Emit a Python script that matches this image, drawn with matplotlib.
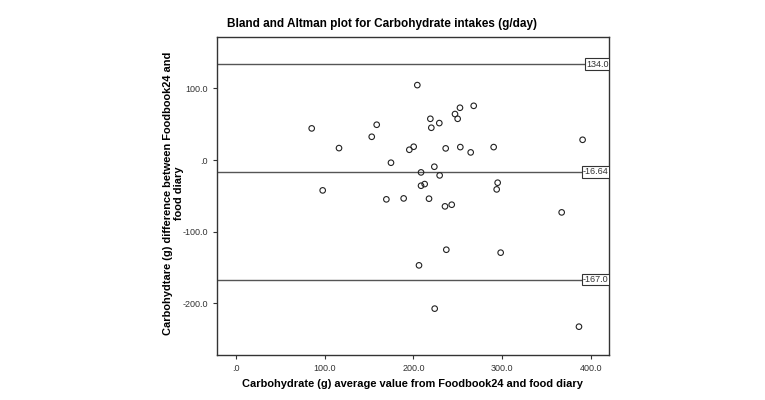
import matplotlib
matplotlib.use('Agg')
import matplotlib.pyplot as plt

plt.rcParams['font.family'] = ['Liberation Sans', 'DejaVu Sans']

# average of the two methods (g) and difference (g)
avg = [85.3, 97.7, 116.1, 153.0, 158.6, 169.5, 174.7, 204.4, 268.0, 252.5,
       246.9, 249.9, 219.1, 229.2, 220.2, 390.8, 195.4, 200.3, 236.4, 252.9,
       264.6, 290.5, 223.6, 208.6, 229.6, 208.6, 212.7, 295.0, 293.9, 189.0,
       217.6, 235.6, 243.2, 367.2, 237.1, 298.4, 206.3, 224.0, 386.7]
diff = [44.2, -42.3, 16.7, 32.5, 49.3, -54.8, -3.7, 104.6, 75.7, 73.0,
        64.2, 57.6, 57.6, 51.6, 45.1, 28.3, 14.4, 18.6, 16.3, 18.1,
        10.7, 18.1, -9.3, -17.2, -21.4, -35.8, -33.5, -31.6, -40.9, -53.5,
        -53.9, -64.6, -62.3, -73.0, -125.1, -129.2, -146.9, -207.3, -232.5]

ref_vals = [134.0, -16.64, -167.0]
ref_labels = ['134.0', '-16.64', '-167.0']

xticks = [0, 100, 200, 300, 400]
xticklabels = ['.0', '100.0', '200.0', '300.0', '400.0']
yticks = [100, 0, -100, -200]
yticklabels = ['100.0', '.0', '-100.0', '-200.0']

fig = plt.figure(figsize=(7.65, 4), dpi=100)
ax = fig.add_axes([0.2833, 0.1125, 0.5127, 0.7955])

for v, lab in zip(ref_vals, ref_labels):
    ax.axhline(v, color='#555555', lw=1.0, zorder=1)
    ax.text(0.999, v, lab, transform=ax.get_yaxis_transform(), ha='right', va='center',
            fontsize=6.5, color='#333333', zorder=3, clip_on=True,
            bbox=dict(boxstyle='square,pad=0.12', fc='white', ec='#333333', lw=0.8))

ax.scatter(avg, diff, s=16, facecolors='none', edgecolors='#222222', linewidths=0.8, zorder=2)

ax.set_xlim(-21.8, 420.5)
ax.set_ylim(-272, 172)
ax.set_xticks(xticks)
ax.set_xticklabels(xticklabels)
ax.set_yticks(yticks)
ax.set_yticklabels(yticklabels)
ax.tick_params(labelsize=6.5, labelcolor='#333333', length=3, width=0.8, color='#333333')

for s in ax.spines.values():
    s.set_color('#333333')
    s.set_linewidth(1.0)

ax.set_xlabel('Carbohydrate (g) average value from Foodbook24 and food diary',
              fontsize=7.9, fontweight='bold', labelpad=4)
ax.set_ylabel('Carbohydtare (g) difference between Foodbook24 and\nfood diary',
              fontsize=7.9, fontweight='bold')
ax.yaxis.set_label_coords(-0.083, 0.509)

fig.text(0.2963, 1 - 24.5 / 400, 'Bland and Altman plot for Carbohydrate intakes (g/day)',
         fontsize=8.5, fontweight='bold', ha='left', va='center')

fig.savefig('out.png', dpi=100)
